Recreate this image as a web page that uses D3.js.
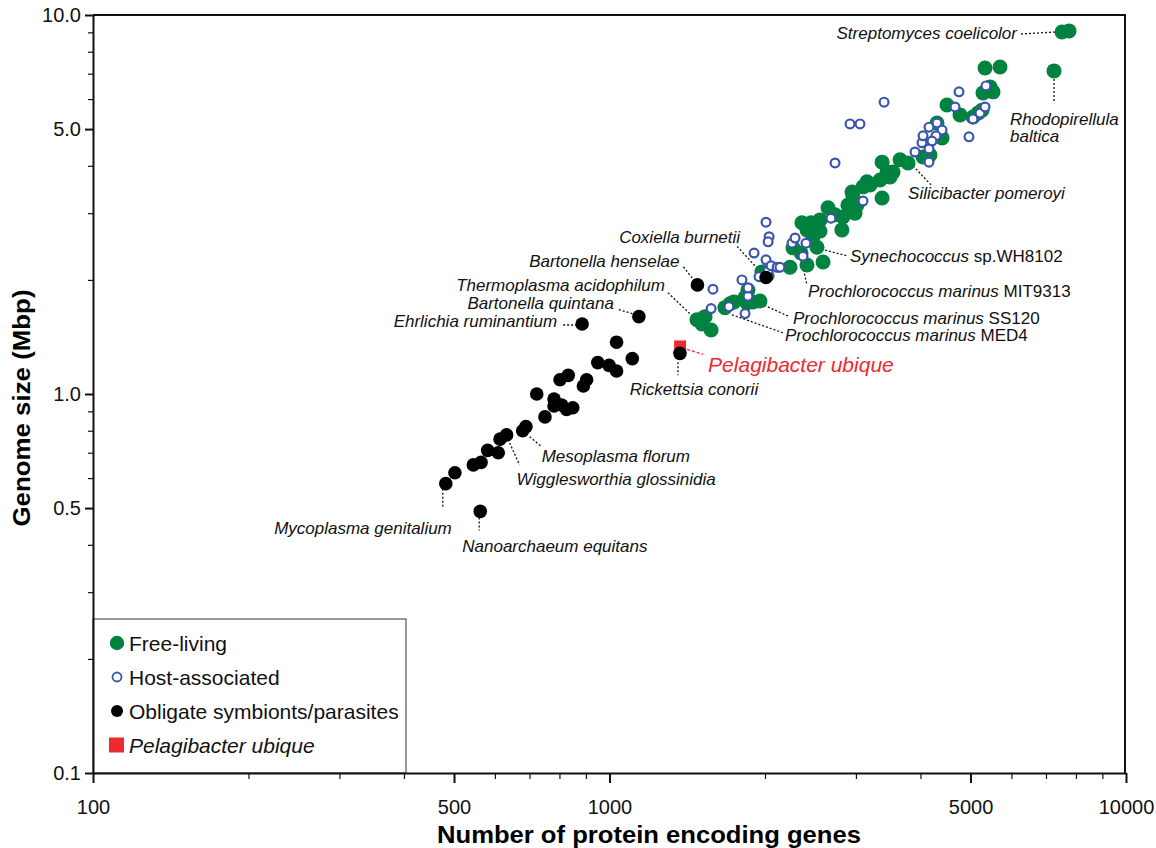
<!DOCTYPE html>
<html>
<head>
<meta charset="utf-8">
<script src="https://cdn.jsdelivr.net/npm/d3@7"></script>
<style>
  body { margin: 0; background: #fff; }
  svg text { font-family: "Liberation Sans", Arial, Helvetica, sans-serif; }
</style>
</head>
<body>
<div id="chart"></div>
<script>
// genome data: [number of protein encoding genes, genome size in Mbp]
var freeLiving = [
  [1477,1.57],[1531,1.60],[1511,1.53],[1573,1.475],[1673,1.69],[1711,1.73],[1742,1.75],
  [1830,1.80],[1854,1.88],[1846,1.74],[1896,1.75],[1956,1.76],[1973,2.10],[2236,2.16],
  [2412,2.19],[2591,2.23],[2266,2.43],[2348,2.355],[2522,2.44],[2358,2.83],[2455,2.83],
  [2412,2.71],[2556,2.69],[2649,3.10],[2818,2.71],[2831,2.93],[2988,3.00],[2961,3.31],
  [3096,3.52],[3152,3.63],[2948,3.41],[3014,3.15],[3371,3.29],[3341,3.67],[3493,3.74],
  [3540,3.85],[3446,3.85],[3371,4.09],[3652,4.15],[3785,4.07],[4046,4.22],[4174,4.27],
  [4306,5.19],[4404,4.74],[4502,5.79],[4771,5.45],[5056,5.38],[5170,5.51],[5263,5.61],
  [5286,6.23],[5527,6.27],[5454,6.46],[5334,7.25],[5703,7.29],[7255,7.12],[7518,9.02],
  [7757,9.08],[2733,2.97],[2895,3.15],[3195,3.56],[2477,2.60],[2556,2.88]
];

var hostAssociated = [
  [1586,1.89],[1573,1.68],[1703,1.70],[1830,1.63],[1854,1.81],[1854,1.905],[1805,2.00],
  [1948,2.04],[2037,2.05],[2028,2.11],[2009,2.26],[2055,2.18],[2111,2.16],[1905,2.355],
  [2009,2.84],[2037,2.60],[2028,2.52],[2138,2.16],[2256,2.50],[2287,2.58],[2401,2.50],
  [2369,2.31],[2684,2.91],[3096,3.23],[2733,4.07],[2922,5.16],[3055,5.16],[3401,5.89],
  [3904,4.35],[4027,4.60],[4046,4.80],[4155,5.06],[4306,5.19],[4404,4.97],[4287,4.80],
  [4211,4.65],[4155,4.43],[4155,4.09],[4750,6.27],[4666,5.72],[4966,4.77],[5056,5.32],
  [5216,5.51],[5334,5.72],[5357,6.50]
];

var obligate = [
  [885,1.53],[1140,1.60],[1032,1.37],[1107,1.24],[949,1.21],[998,1.19],[1032,1.15],
  [832,1.12],[802,1.09],[903,1.09],[890,1.05],[723,1.00],[781,0.97],[781,0.93],
  [808,0.935],[826,0.91],[849,0.92],[750,0.87],[689,0.82],[679,0.80],[632,0.78],
  [614,0.76],[581,0.71],[609,0.70],[564,0.66],[545,0.65],[502,0.62],[482,0.58],
  [562,0.49],[1480,1.94],[2010,2.03],[1369,1.28]
];

var pelagibacter = [[1370,1.335]];

var xMajor = [100, 500, 1000, 5000, 10000];
var xLabels = ["100", "500", "1000", "5000", "10000"];
var yMajor = [0.1, 0.5, 1, 5, 10];
var yLabels = ["0.1", "0.5", "1.0", "5.0", "10.0"];

// labelled genomes: name parts (italic or not), target genome, label/leader offsets in px
var annotations = [
  {parts: [["Streptomyces coelicolor", 1]], at: [7518, 9.02], dx: -45, dy: 7, anchor: "end", line: [-41, 2, -6, 0]},
  {parts: [["Rhodopirellula", 1]], parts2: [["baltica", 1]], at: [7255, 7.12], dx: -44, dy: 54, anchor: "start", line: [0, 8, 0, 32]},
  {parts: [["Silicibacter pomeroyi", 1]], at: [3785, 4.07], dx: 0, dy: 36, anchor: "start", line: [5, 3, 24, 23]},
  {parts: [["Synechococcus", 1], [" sp.WH8102", 0]], at: [2522, 2.44], dx: 33, dy: 15, anchor: "start", line: [8, 3, 31, 9]},
  {parts: [["Prochlorococcus marinus", 1], [" MIT9313", 0]], at: [2348, 2.355], dx: 7, dy: 44, anchor: "start", line: [0, 5, 6, 32]},
  {parts: [["Prochlorococcus marinus", 1], [" SS120", 0]], at: [1956, 1.76], dx: 33, dy: 23, anchor: "start", line: [-3, 1, 28, 15]},
  {parts: [["Prochlorococcus marinus", 1], [" MED4", 0]], at: [1711, 1.73], dx: 55, dy: 37, anchor: "start", line: [2, 11, 53, 29]},
  {parts: [["Coxiella burnetii", 1]], at: [2010, 2.03], dx: -26, dy: -34, anchor: "end", line: [-29, -31, -4, -4]},
  {parts: [["Bartonella henselae", 1]], at: [1480, 1.94], dx: -18, dy: -18, anchor: "end", line: [-14, -18, -3, -4]},
  {parts: [["Thermoplasma acidophilum", 1]], at: [1477, 1.57], dx: -32, dy: -29, anchor: "end", line: [-29, -27, -4, -3]},
  {parts: [["Bartonella quintana", 1]], at: [1140, 1.60], dx: -25, dy: -8, anchor: "end", line: [-20, -7, -3, -2]},
  {parts: [["Ehrlichia ruminantium", 1]], at: [885, 1.53], dx: -25, dy: 3, anchor: "end", line: [-19, 1, -6, 1]},
  {parts: [["Rickettsia conorii", 1]], at: [1369, 1.28], dx: 14, dy: 42, anchor: "middle", line: [-2, 9, -2, 22]},
  {parts: [["Mesoplasma florum", 1]], at: [679, 0.80], dx: 19, dy: 31, anchor: "start", line: [7, 6, 19, 16]},
  {parts: [["Wigglesworthia glossinidia", 1]], at: [632, 0.78], dx: 10, dy: 50, anchor: "start", line: [3, 8, 13, 30]},
  {parts: [["Mycoplasma genitalium", 1]], at: [482, 0.58], dx: 6, dy: 50, anchor: "end", line: [-3, 5, -3, 23]},
  {parts: [["Nanoarchaeum equitans", 1]], at: [562, 0.49], dx: -18, dy: 41, anchor: "start", line: [-1, 6, -1, 19]},
  {parts: [["Pelagibacter ubique", 1]], at: [1370, 1.335], dx: 28, dy: 26, anchor: "start", line: [7, 3, 23, 8], red: true}
];

var GREEN = "#00833f", BLUE = "#3a55b0", RED = "#ec2a30";

var svg = d3.select("#chart").append("svg")
    .attr("width", 1156)
    .attr("height", 848);

var x = d3.scaleLog().domain([100, 10000]).range([93, 1126]);
var y = d3.scaleLog().domain([0.1, 10]).range([773, 15]);

function isMajor(list, d) {
  return list.some(function(m) { return Math.abs(m - d) / m < 1e-6; });
}

// frame (top + right)
svg.append("line").attr("x1", 93).attr("x2", x(10000)).attr("y1", y(10)).attr("y2", y(10))
    .attr("stroke", "#111").attr("stroke-width", 2.2);
svg.append("line").attr("x1", x(10000) - 1).attr("x2", x(10000) - 1).attr("y1", y(10)).attr("y2", y(0.1))
    .attr("stroke", "#111").attr("stroke-width", 2);

// x axis
var xAxis = svg.append("g")
    .attr("transform", "translate(0," + y(0.1) + ")")
    .call(d3.axisBottom(x).tickValues(x.ticks()).tickSizeOuter(0)
      .tickFormat(function(d) {
        var i = xMajor.findIndex(function(m) { return Math.abs(m - d) / m < 1e-6; });
        return i >= 0 ? xLabels[i] : "";
      }));
xAxis.select(".domain").attr("stroke", "#111").attr("stroke-width", 2);
xAxis.selectAll(".tick line")
    .attr("y2", function(d) { return isMajor(xMajor, d) ? 10 : 6; })
    .attr("stroke-width", function(d) { return isMajor(xMajor, d) ? 2 : 1.2; })
    .attr("stroke", "#111");
xAxis.selectAll(".tick text")
    .attr("y", 27)
    .attr("font-size", 20)
    .attr("font-family", "Liberation Sans, Arial, sans-serif")
    .attr("fill", "#111");

// y axis
var yAxis = svg.append("g")
    .attr("transform", "translate(93,0)")
    .call(d3.axisLeft(y).tickValues(y.ticks()).tickSizeOuter(0)
      .tickFormat(function(d) {
        var i = yMajor.findIndex(function(m) { return Math.abs(m - d) / m < 1e-6; });
        return i >= 0 ? yLabels[i] : "";
      }));
yAxis.select(".domain").attr("stroke", "#111").attr("stroke-width", 2);
yAxis.selectAll(".tick line")
    .attr("x2", function(d) { return isMajor(yMajor, d) ? -8 : -5; })
    .attr("stroke-width", function(d) { return isMajor(yMajor, d) ? 2 : 1.2; })
    .attr("stroke", "#111");
yAxis.selectAll(".tick text")
    .attr("x", -12)
    .attr("font-size", 20)
    .attr("font-family", "Liberation Sans, Arial, sans-serif")
    .attr("fill", "#111");

// axis titles
svg.append("text")
    .attr("x", 649).attr("y", 843)
    .attr("text-anchor", "middle")
    .attr("font-size", 23).attr("font-weight", "bold")
    .attr("textLength", 424).attr("lengthAdjust", "spacingAndGlyphs")
    .text("Number of protein encoding genes");

svg.append("text")
    .attr("transform", "translate(30,408) rotate(-90)")
    .attr("text-anchor", "middle")
    .attr("font-size", 23).attr("font-weight", "bold")
    .attr("textLength", 237).attr("lengthAdjust", "spacingAndGlyphs")
    .text("Genome size (Mbp)");

// leader lines
var leaders = svg.append("g");
annotations.forEach(function(a) {
  var px = x(a.at[0]), py = y(a.at[1]);
  leaders.append("line")
      .attr("x1", px + a.line[0]).attr("y1", py + a.line[1])
      .attr("x2", px + a.line[2]).attr("y2", py + a.line[3])
      .attr("stroke", a.red ? RED : "#111")
      .attr("stroke-width", 1.3)
      .attr("stroke-dasharray", a.red ? "3,2" : "2,2");
});

// points
svg.append("g").selectAll("circle")
    .data(freeLiving)
  .enter().append("circle")
    .attr("cx", d => x(d[0]))
    .attr("cy", d => y(d[1]))
    .attr("r", 7.5)
    .attr("fill", GREEN);

svg.append("g").selectAll("circle")
    .data(hostAssociated)
  .enter().append("circle")
    .attr("cx", d => x(d[0]))
    .attr("cy", d => y(d[1]))
    .attr("r", 4.4)
    .attr("fill", "#fff")
    .attr("stroke", BLUE)
    .attr("stroke-width", 2.2);

svg.append("g").selectAll("rect")
    .data(pelagibacter)
  .enter().append("rect")
    .attr("x", d => x(d[0]) - 6)
    .attr("y", d => y(d[1]) - 6)
    .attr("width", 12)
    .attr("height", 12)
    .attr("fill", RED);

svg.append("g").selectAll("circle")
    .data(obligate)
  .enter().append("circle")
    .attr("cx", d => x(d[0]))
    .attr("cy", d => y(d[1]))
    .attr("r", 6.8)
    .attr("fill", "#000");

// annotation labels
function addLabel(parts, px, py, a) {
  var t = svg.append("text")
      .attr("x", px).attr("y", py)
      .attr("text-anchor", a.anchor)
      .attr("font-size", a.red ? 21 : 17)
      .attr("fill", a.red ? RED : "#111");
  parts.forEach(function(p) {
    t.append("tspan")
        .attr("font-style", p[1] ? "italic" : "normal")
        .text(p[0]);
  });
}
annotations.forEach(function(a) {
  var px = x(a.at[0]), py = y(a.at[1]);
  addLabel(a.parts, px + a.dx, py + a.dy, a);
  if (a.parts2) addLabel(a.parts2, px + a.dx, py + a.dy + 17, a);
});

// legend
var legend = svg.append("g");
legend.append("rect")
    .attr("x", 93).attr("y", 619)
    .attr("width", 313).attr("height", 154)
    .attr("fill", "#fff")
    .attr("stroke", "#333")
    .attr("stroke-width", 1);
svg.node().appendChild(yAxis.node());
svg.node().appendChild(xAxis.node());

var legendItems = [
  {label: "Free-living", type: "green"},
  {label: "Host-associated", type: "blue"},
  {label: "Obligate symbionts/parasites", type: "black"},
  {label: "Pelagibacter ubique", type: "red"}
];
legendItems.forEach(function(item, i) {
  var cy = 643 + i * 34;
  if (item.type == "green") {
    legend.append("circle").attr("cx", 117).attr("cy", cy).attr("r", 7.2).attr("fill", GREEN);
  } else if (item.type == "blue") {
    legend.append("circle").attr("cx", 117).attr("cy", cy).attr("r", 4.5)
        .attr("fill", "#fff").attr("stroke", BLUE).attr("stroke-width", 1.8);
  } else if (item.type == "black") {
    legend.append("circle").attr("cx", 117).attr("cy", cy).attr("r", 6).attr("fill", "#000");
  } else {
    legend.append("rect").attr("x", 109).attr("y", cy - 7.5).attr("width", 15).attr("height", 15).attr("fill", RED);
  }
  legend.append("text")
      .attr("x", 129).attr("y", cy + 8)
      .attr("font-size", 21)
      .attr("font-style", item.type == "red" ? "italic" : "normal")
      .attr("fill", "#111")
      .text(item.label);
});
</script>
</body>
</html>
